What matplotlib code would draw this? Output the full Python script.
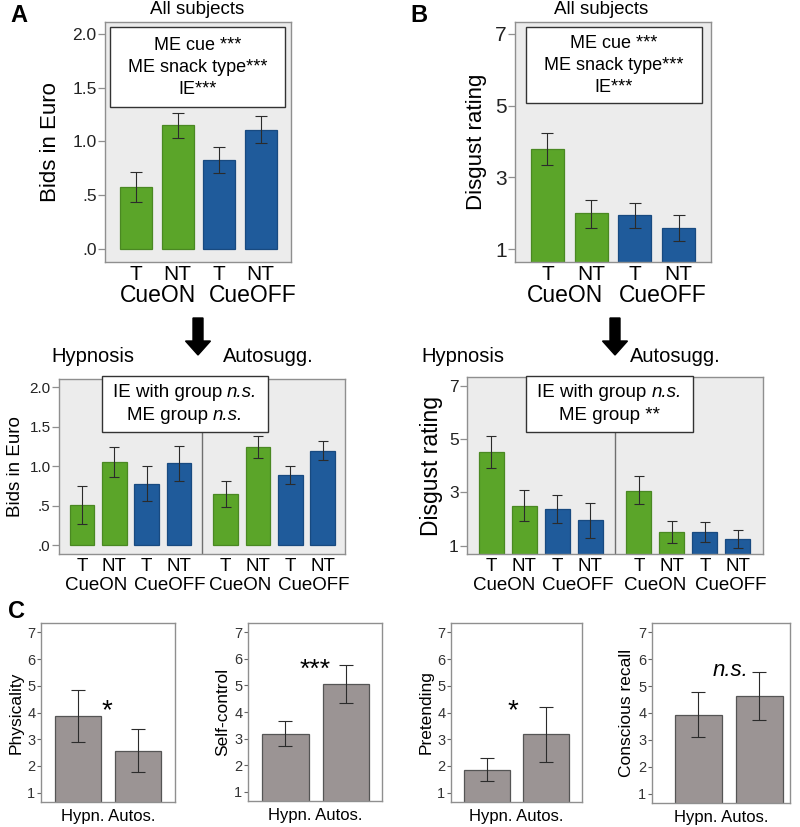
import matplotlib
matplotlib.use("Agg")
import matplotlib.pyplot as plt
import matplotlib.transforms as mtransforms
from matplotlib.patches import Rectangle, FancyArrow
from matplotlib.ticker import FuncFormatter

plt.rcParams['font.family'] = ['Liberation Sans', 'DejaVu Sans']

# ---- data ----
snack = ["T", "NT", "T", "NT"]
cue = ["CueON", "CueOFF"]

bids_all = [0.58, 1.15, 0.83, 1.11]
bids_all_lo = [0.44, 1.03, 0.71, 0.99]
bids_all_hi = [0.72, 1.26, 0.95, 1.24]

disgust_all = [3.78, 2.00, 1.95, 1.60]
disgust_all_lo = [3.33, 1.60, 1.58, 1.22]
disgust_all_hi = [4.23, 2.37, 2.28, 1.95]

bids_hyp = [0.51, 1.06, 0.78, 1.04]
bids_hyp_lo = [0.27, 0.86, 0.56, 0.81]
bids_hyp_hi = [0.75, 1.25, 1.00, 1.26]
bids_auto = [0.65, 1.24, 0.89, 1.20]
bids_auto_lo = [0.49, 1.10, 0.77, 1.08]
bids_auto_hi = [0.81, 1.38, 1.01, 1.32]

disg_hyp = [4.50, 2.50, 2.38, 1.95]
disg_hyp_lo = [3.90, 1.93, 1.87, 1.29]
disg_hyp_hi = [5.10, 3.10, 2.91, 2.61]
disg_auto = [3.07, 1.50, 1.50, 1.25]
disg_auto_lo = [2.55, 1.10, 1.13, 0.93]
disg_auto_hi = [3.60, 1.91, 1.89, 1.58]

groups_c = ["Hypn.", "Autos."]
ratings = ["Physicality", "Self-control", "Pretending", "Conscious recall"]
rating_means = [[3.88, 2.56], [3.19, 5.05], [1.86, 3.19], [3.93, 4.64]]
rating_lo = [[2.91, 1.76], [2.72, 4.35], [1.43, 2.15], [3.10, 3.74]]
rating_hi = [[4.84, 3.37], [3.68, 5.78], [2.30, 4.21], [4.78, 5.52]]
rating_sig = ["*", "***", "*", "n.s."]

# ---- style ----
GREEN, GREEN_E = "#5ba529", "#4a8822"
BLUE, BLUE_E = "#1f5b9b", "#184a80"
BG = "#ececec"
FRAME = "#8f8f8f"
ERR = "#2b2b2b"
colors = [GREEN, GREEN, BLUE, BLUE]
edges = [GREEN_E, GREEN_E, BLUE_E, BLUE_E]

W, H = 800, 827
fig = plt.figure(figsize=(W / 100, H / 100), dpi=100)
renderer = fig.canvas.get_renderer()


def box(x0, y0, x1, y1):
    return [x0 / W, 1 - y1 / H, (x1 - x0) / W, (y1 - y0) / H]


def fy(y):
    return 1 - y / H


def style_axes(ax, bg, tick_size, tick_color="#222222"):
    ax.set_facecolor(bg)
    for s in ax.spines.values():
        s.set_color(FRAME)
        s.set_linewidth(1.0)
    ax.tick_params(axis="y", length=5, width=0.9, color=FRAME, labelsize=tick_size,
                   labelcolor=tick_color, pad=1)
    ax.tick_params(axis="x", length=0, pad=3)


def bars(ax, xs, vals, lo, hi, width, cap):
    ax.bar(xs, vals, width=width, color=colors, edgecolor=edges, linewidth=0.9, zorder=2)
    yerr = [[v - l for v, l in zip(vals, lo)], [h - v for v, h in zip(vals, hi)]]
    ax.errorbar(xs, vals, yerr=yerr, fmt="none", ecolor=ERR, elinewidth=0.8,
                capsize=cap, capthick=0.8, zorder=3)


def cue_labels(ax, xs, ypix, size, shifts):
    tr = mtransforms.blended_transform_factory(ax.transData, fig.transFigure)
    for i, name in enumerate(cue):
        xc = (xs[2 * i] + xs[2 * i + 1]) / 2 + shifts[i]
        ax.text(xc, fy(ypix), name, transform=tr, ha="center", va="center", fontsize=size)


def mixed_line(xc, y, parts, size):
    # parts: list of (text, italic) drawn side by side, centred on xc (pixels)
    texts = [fig.text(0, fy(y), t, fontsize=size, va="center", ha="left", zorder=6,
                      style="italic" if it else "normal") for t, it in parts]
    widths = [t.get_window_extent(renderer).width for t in texts]
    x = xc - sum(widths) / 2
    for t, w in zip(texts, widths):
        t.set_x(x / W)
        x += w


def note_box(x0, y0, x1, y1, lines, size, line_gap):
    fig.add_artist(Rectangle((x0 / W, fy(y1)), (x1 - x0) / W, (y1 - y0) / H,
                             transform=fig.transFigure, facecolor="white",
                             edgecolor="#333333", linewidth=1.0, zorder=5))
    yc = (y0 + y1) / 2
    n = len(lines)
    for i, ln in enumerate(lines):
        y = yc + (i - (n - 1) / 2) * line_gap
        parts = ln if isinstance(ln, list) else [(ln, False)]
        mixed_line((x0 + x1) / 2, y, parts, size)


def down_arrow(xc):
    fig.add_artist(FancyArrow(xc / W, fy(318), 0, -(355 - 318) / H, width=10 / W,
                              head_width=25 / W, head_length=14 / H,
                              length_includes_head=True, transform=fig.transFigure,
                              color="black", zorder=5))


strip0 = FuncFormatter(lambda v, p: ("%.1f" % v).lstrip("0") if v < 1 else "%.1f" % v)

# ---- A top ----
xs4 = list(range(4))
ax = fig.add_axes(box(105, 22, 291, 262))
style_axes(ax, BG, 12.5)
bars(ax, xs4, bids_all, bids_all_lo, bids_all_hi, 0.77, 4.3)
ax.set_xlim(-0.75, 3.73)
ax.set_ylim(-0.12, 2.11)
ax.set_yticks([0, 0.5, 1.0, 1.5, 2.0])
ax.yaxis.set_major_formatter(strip0)
ax.set_xticks(xs4)
ax.set_xticklabels(snack, fontsize=15)
ax.tick_params(axis="x", pad=2)
ax.set_ylabel("Bids in Euro", fontsize=16, labelpad=8)
cue_labels(ax, xs4, 296, 16.5, [0.03, 0.3])
fig.text(197 / W, fy(10), "All subjects", ha="center", va="center", fontsize=13.5)
note_box(110, 27, 285, 107, ["ME cue ***", "ME snack type***", "IE***"], 13, 22)

# ---- B top ----
ax = fig.add_axes(box(515, 22, 711, 262))
style_axes(ax, BG, 15)
bars(ax, xs4, disgust_all, disgust_all_lo, disgust_all_hi, 0.755, 4.3)
ax.set_xlim(-0.74, 3.74)
ax.set_ylim(0.64, 7.33)
ax.set_yticks([1, 3, 5, 7])
ax.set_xticks(xs4)
ax.set_xticklabels(snack, fontsize=15)
ax.tick_params(axis="x", pad=2)
ax.set_ylabel("Disgust rating", fontsize=16, labelpad=6)
cue_labels(ax, xs4, 296, 16.5, [-0.09, 0.13])
fig.text(601 / W, fy(10), "All subjects", ha="center", va="center", fontsize=13.5)
note_box(526, 27, 702, 103, ["ME cue ***", "ME snack type***", "IE***"], 13, 22)

# arrows and group titles
down_arrow(198)
down_arrow(615)
fig.text(93 / W, fy(357), "Hypnosis", ha="center", va="center", fontsize=14.5)
fig.text(268 / W, fy(357), "Autosugg.", ha="center", va="center", fontsize=14.5)
fig.text(463 / W, fy(357), "Hypnosis", ha="center", va="center", fontsize=14.5)
fig.text(675 / W, fy(357), "Autosugg.", ha="center", va="center", fontsize=14.5)

ns_line = [("IE with group ", False), ("n.s.", True)]

# ---- A bottom ----
gap = 1.45
xs8 = xs4 + [x + 3 + gap for x in xs4]
ax = fig.add_axes(box(59, 379, 345, 554))
style_axes(ax, BG, 11)
bars(ax, xs8[:4], bids_hyp, bids_hyp_lo, bids_hyp_hi, 0.76, 3.5)
bars(ax, xs8[4:], bids_auto, bids_auto_lo, bids_auto_hi, 0.76, 3.5)
ax.axvline((xs8[3] + xs8[4]) / 2, color="#6f6f6f", linewidth=1.0, zorder=1)
ax.set_xlim(-0.71, 8.14)
ax.set_ylim(-0.11, 2.105)
ax.set_yticks([0, 0.5, 1.0, 1.5, 2.0])
ax.yaxis.set_major_formatter(strip0)
ax.set_xticks(xs8)
ax.set_xticklabels(snack * 2, fontsize=13.5)
ax.set_ylabel("Bids in Euro", fontsize=13.5, labelpad=4)
cue_labels(ax, xs8[:4], 586, 13.5, [-0.05, 0.22])
cue_labels(ax, xs8[4:], 586, 13.5, [-0.05, 0.22])
note_box(102, 376, 268, 432, [ns_line, [("ME group ", False), ("n.s.", True)]], 13.5, 22)

# ---- B bottom ----
gap = 1.47
xs8 = xs4 + [x + 3 + gap for x in xs4]
ax = fig.add_axes(box(467, 377, 763, 554))
style_axes(ax, BG, 12.5)
bars(ax, xs8[:4], disg_hyp, disg_hyp_lo, disg_hyp_hi, 0.76, 3.5)
bars(ax, xs8[4:], disg_auto, disg_auto_lo, disg_auto_hi, 0.76, 3.5)
ax.axvline((xs8[3] + xs8[4]) / 2, color="#6f6f6f", linewidth=1.0, zorder=1)
ax.set_xlim(-0.74, 8.23)
ax.set_ylim(0.69, 7.33)
ax.set_yticks([1, 3, 5, 7])
ax.set_xticks(xs8)
ax.set_xticklabels(snack * 2, fontsize=13.5)
ax.set_ylabel("Disgust rating", fontsize=16.5, labelpad=4)
cue_labels(ax, xs8[:4], 586, 13.5, [-0.1, 0.12])
cue_labels(ax, xs8[4:], 586, 13.5, [0.0, 0.28])
note_box(526, 376, 693, 432, [ns_line, "ME group **"], 13.5, 22)

# ---- C ----
c_boxes = [(41, 623, 175, 802), (248, 623, 382, 801), (451, 623, 582, 802), (652, 623, 790, 803)]
c_xlim = [(-0.62, 1.62), (-0.62, 1.6), (-0.6, 1.6), (-0.76, 1.5)]
sig_pos = [(0.48, 4.05), (0.5, 5.6), (0.44, 4.05), (0.52, 5.6)]
sig_size = [20, 19, 20, 16]
xs2 = [0, 1]
for i in range(4):
    ax = fig.add_axes(box(*c_boxes[i]))
    ax.set_facecolor("white")
    for s in ax.spines.values():
        s.set_color(FRAME)
        s.set_linewidth(1.0)
    ax.tick_params(axis="y", length=3, width=0.8, color="#666666", labelsize=10.5,
                   labelcolor="#333333", pad=1)
    ax.tick_params(axis="x", length=0)
    m = rating_means[i]
    ax.bar(xs2, m, width=0.77, color="#9b9494", edgecolor="#555555", linewidth=0.9, zorder=2)
    yerr = [[v - l for v, l in zip(m, rating_lo[i])], [h - v for v, h in zip(m, rating_hi[i])]]
    ax.errorbar(xs2, m, yerr=yerr, fmt="none", ecolor=ERR, elinewidth=0.8,
                capsize=5, capthick=0.8, zorder=3)
    ax.set_xlim(*c_xlim[i])
    ax.set_ylim(0.65, 7.35)
    ax.set_yticks(range(1, 8))
    ax.set_xticks([])
    ax.set_xlabel(" ".join(groups_c), fontsize=12, labelpad=5)
    ax.set_ylabel(ratings[i], fontsize=12.5, labelpad=3)
    sx, sy = sig_pos[i]
    ax.text(sx, sy, rating_sig[i], ha="center", va="center", fontsize=sig_size[i],
            style="italic" if rating_sig[i] == "n.s." else "normal")

fig.text(10 / W, fy(16), "A", fontsize=17, fontweight="bold", va="center")
fig.text(410 / W, fy(16), "B", fontsize=17, fontweight="bold", va="center")
fig.text(8 / W, fy(612), "C", fontsize=17, fontweight="bold", va="center")

fig.savefig("out.png", dpi=100)
